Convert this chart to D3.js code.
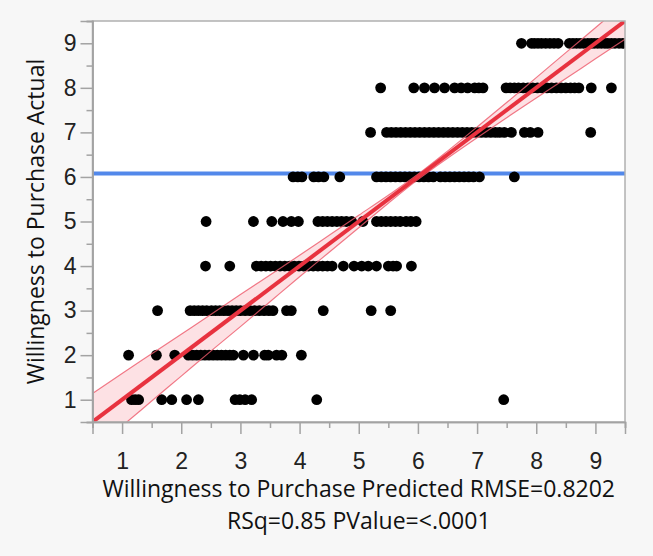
<!DOCTYPE html>
<html>
<head>
<meta charset="utf-8">
<script src="https://cdn.jsdelivr.net/npm/d3@7"></script>
<style>
  body { margin: 0; background: #f7f7f7; }
  svg { display: block; font-family: 'Open Sans', sans-serif; }
  .axis path, .axis line { stroke: #a3a3a3; stroke-width: 1.5; }
  .axis text { fill: #222; font-size: 23px; }
</style>
</head>
<body>
<svg class="chart"></svg>
<script>
// predicted values for each actual level
var pred1 = [1.16, 1.22, 1.28, 1.67, 1.84, 2.09, 2.29, 2.91, 2.99, 3.08, 3.19, 4.29, 7.45];
var pred2 = [1.11, 1.58, 1.89, 2.12, 2.19, 2.26, 2.33, 2.40, 2.47, 2.54, 2.61, 2.68, 2.75, 2.82, 2.88,
             3.05, 3.22, 3.41, 3.47, 3.61, 3.70, 4.03];
var pred3 = [1.60, 2.15, 2.22, 2.29, 2.36, 2.43, 2.51, 2.58, 2.65, 2.72, 2.79, 2.86, 2.93, 3.00, 3.08,
             3.16, 3.24, 3.32, 3.40, 3.48, 3.55, 3.78, 3.86, 4.40, 5.21, 5.54];
var pred4 = [2.41, 2.82, 3.27, 3.35, 3.43, 3.51, 3.59, 3.67, 3.75, 3.83, 3.91, 3.99, 4.07, 4.15, 4.23,
             4.31, 4.39, 4.47, 4.55, 4.74, 4.92, 5.05, 5.16, 5.30, 5.50, 5.58, 5.64, 5.89];
var pred5 = [2.42, 3.22, 3.53, 3.72, 3.86, 3.98, 4.31, 4.39, 4.47, 4.55, 4.63, 4.71, 4.79, 4.88, 5.07,
             5.30, 5.38, 5.46, 5.54, 5.62, 5.70, 5.80, 5.88, 5.97];
var pred6 = [3.89, 3.97, 4.04, 4.24, 4.32, 4.41, 4.68, 5.30, 5.38, 5.46, 5.54, 5.62, 5.70, 5.78, 5.86,
             5.94, 6.02, 6.10, 6.18, 6.26, 6.38, 6.46, 6.54, 6.62, 6.70, 6.78, 6.86, 6.94, 7.04, 7.63];
var pred7 = [5.20, 5.47, 5.55, 5.63, 5.71, 5.79, 5.87, 5.95, 6.03, 6.11, 6.19, 6.27, 6.35, 6.43, 6.51,
             6.59, 6.67, 6.75, 6.83, 6.91, 6.99, 7.07, 7.15, 7.23, 7.31, 7.38, 7.46, 7.58, 7.80, 7.90,
             8.03, 8.92];
var pred8 = [5.37, 5.93, 6.11, 6.28, 6.45, 6.62, 6.73, 6.84, 6.96, 7.03, 7.10, 7.49, 7.56, 7.63, 7.70,
             7.78, 7.86, 7.94, 8.02, 8.10, 8.18, 8.26, 8.34, 8.42, 8.50, 8.58, 8.65, 8.72, 8.93, 9.27];
var pred9 = [7.75, 7.92, 7.97, 8.03, 8.09, 8.16, 8.23, 8.30, 8.37, 8.56, 8.62, 8.68, 8.74, 8.80, 8.87,
             8.93, 8.98, 9.04, 9.10, 9.16, 9.21, 9.27, 9.33, 9.40, 9.46];
var levels = [1, 2, 3, 4, 5, 6, 7, 8, 9];

var meanActual = 6.08;
var fitX = [0.5, 9.5];
var fitY = [0.5, 9.5];
// confidence band half width along the fit
var bandX = [0.5, 1, 1.5, 2, 2.5, 3, 3.5, 4, 4.5, 5, 5.5, 6, 6.5, 7, 7.5, 8, 8.5, 9, 9.5];
var bandHalf = [0.64, 0.59, 0.53, 0.47, 0.41, 0.36, 0.30, 0.24, 0.19, 0.14, 0.09, 0.06, 0.08, 0.12, 0.17, 0.23, 0.29, 0.35, 0.41];

var xTicks = [1, 2, 3, 4, 5, 6, 7, 8, 9];
var yTicks = [1, 2, 3, 4, 5, 6, 7, 8, 9];
var minorTicks = [0.5, 1.5, 2.5, 3.5, 4.5, 5.5, 6.5, 7.5, 8.5, 9.5];

var margin = { top: 21, right: 28, bottom: 134, left: 92.5 };
var width = 653 - margin.left - margin.right;
var height = 556 - margin.top - margin.bottom;

var x = d3.scaleLinear().domain([0.5, 9.5]).range([0, width]);
var y = d3.scaleLinear().domain([0.5, 9.5]).range([height, 0]);

var svg = d3.select('.chart')
  .attr('width', 653)
  .attr('height', 556);

svg.append('rect')
  .attr('width', 653).attr('height', 556).attr('fill', '#f7f7f7');

var chart = svg.append('g')
  .attr('transform', 'translate(' + margin.left + ',' + margin.top + ')');

chart.append('clipPath').attr('id', 'clip')
  .append('rect').attr('width', width).attr('height', height);

chart.append('rect')
  .attr('width', width).attr('height', height).attr('fill', '#fff');

var plot = chart.append('g').attr('clip-path', 'url(#clip)');

// mean line
plot.append('line')
  .attr('x1', 0).attr('x2', width)
  .attr('y1', y(meanActual)).attr('y2', y(meanActual))
  .attr('stroke', '#5288ea').attr('stroke-width', 4);

var band = bandX.map((d, i) => ({ x: d, lo: d - bandHalf[i], hi: d + bandHalf[i] }));

plot.append('path')
  .datum(band)
  .attr('fill', '#f2566b').attr('fill-opacity', 0.18)
  .attr('d', d3.area().curve(d3.curveMonotoneX)
    .x(d => x(d.x)).y0(d => y(d.lo)).y1(d => y(d.hi)));

// points
var points = [];
[pred1, pred2, pred3, pred4, pred5, pred6, pred7, pred8, pred9].forEach((arr, i) => {
  arr.forEach(p => points.push([p, levels[i]]));
});

plot.selectAll('.dot')
  .data(points)
  .enter().append('circle')
  .attr('class', 'dot')
  .attr('cx', d => x(d[0]))
  .attr('cy', d => y(d[1]))
  .attr('r', 5.4)
  .attr('fill', '#000');

// band edges and fit line on top
['lo', 'hi'].forEach(k => {
  plot.append('path')
    .datum(band)
    .attr('fill', 'none')
    .attr('stroke', '#ee5a6c').attr('stroke-width', 1.2).attr('stroke-opacity', 0.8)
    .attr('d', d3.line().curve(d3.curveMonotoneX).x(d => x(d.x)).y(d => y(d[k])));
});

plot.append('line')
  .attr('x1', x(fitX[0])).attr('y1', y(fitY[0]))
  .attr('x2', x(fitX[1])).attr('y2', y(fitY[1]))
  .attr('stroke', '#e8323f').attr('stroke-width', 4);

// frame
chart.append('rect')
  .attr('width', width).attr('height', height)
  .attr('fill', 'none').attr('stroke', '#b0b0b0').attr('stroke-width', 1.5);

//X axis
chart.append('g')
  .attr('class', 'axis')
  .attr('transform', 'translate(0,' + height + ')')
  .call(d3.axisBottom(x).tickValues(minorTicks).tickSize(6).tickFormat(''));
chart.append('g')
  .attr('class', 'axis')
  .attr('transform', 'translate(0,' + height + ')')
  .call(d3.axisBottom(x).tickValues(xTicks).tickSize(12).tickPadding(19).tickFormat(d3.format('d')));

//Y axis
chart.append('g')
  .attr('class', 'axis')
  .call(d3.axisLeft(y).tickValues(minorTicks).tickSize(6).tickFormat(''));
chart.append('g')
  .attr('class', 'axis')
  .call(d3.axisLeft(y).tickValues(yTicks).tickSize(12).tickPadding(4).tickFormat(d3.format('d')));

// titles
svg.append('text')
  .attr('transform', 'translate(44,' + (margin.top + height / 2) + ') rotate(-90)')
  .attr('text-anchor', 'middle')
  .attr('font-size', 23).attr('fill', '#111')
  .text('Willingness to Purchase Actual');

svg.append('text')
  .attr('x', margin.left + width / 2).attr('y', 497)
  .attr('text-anchor', 'middle')
  .attr('font-size', 23).attr('fill', '#111')
  .text('Willingness to Purchase Predicted RMSE=0.8202');

svg.append('text')
  .attr('x', margin.left + width / 2).attr('y', 529)
  .attr('text-anchor', 'middle')
  .attr('font-size', 23).attr('fill', '#111')
  .text('RSq=0.85 PValue=<.0001');
</script>
</body>
</html>
